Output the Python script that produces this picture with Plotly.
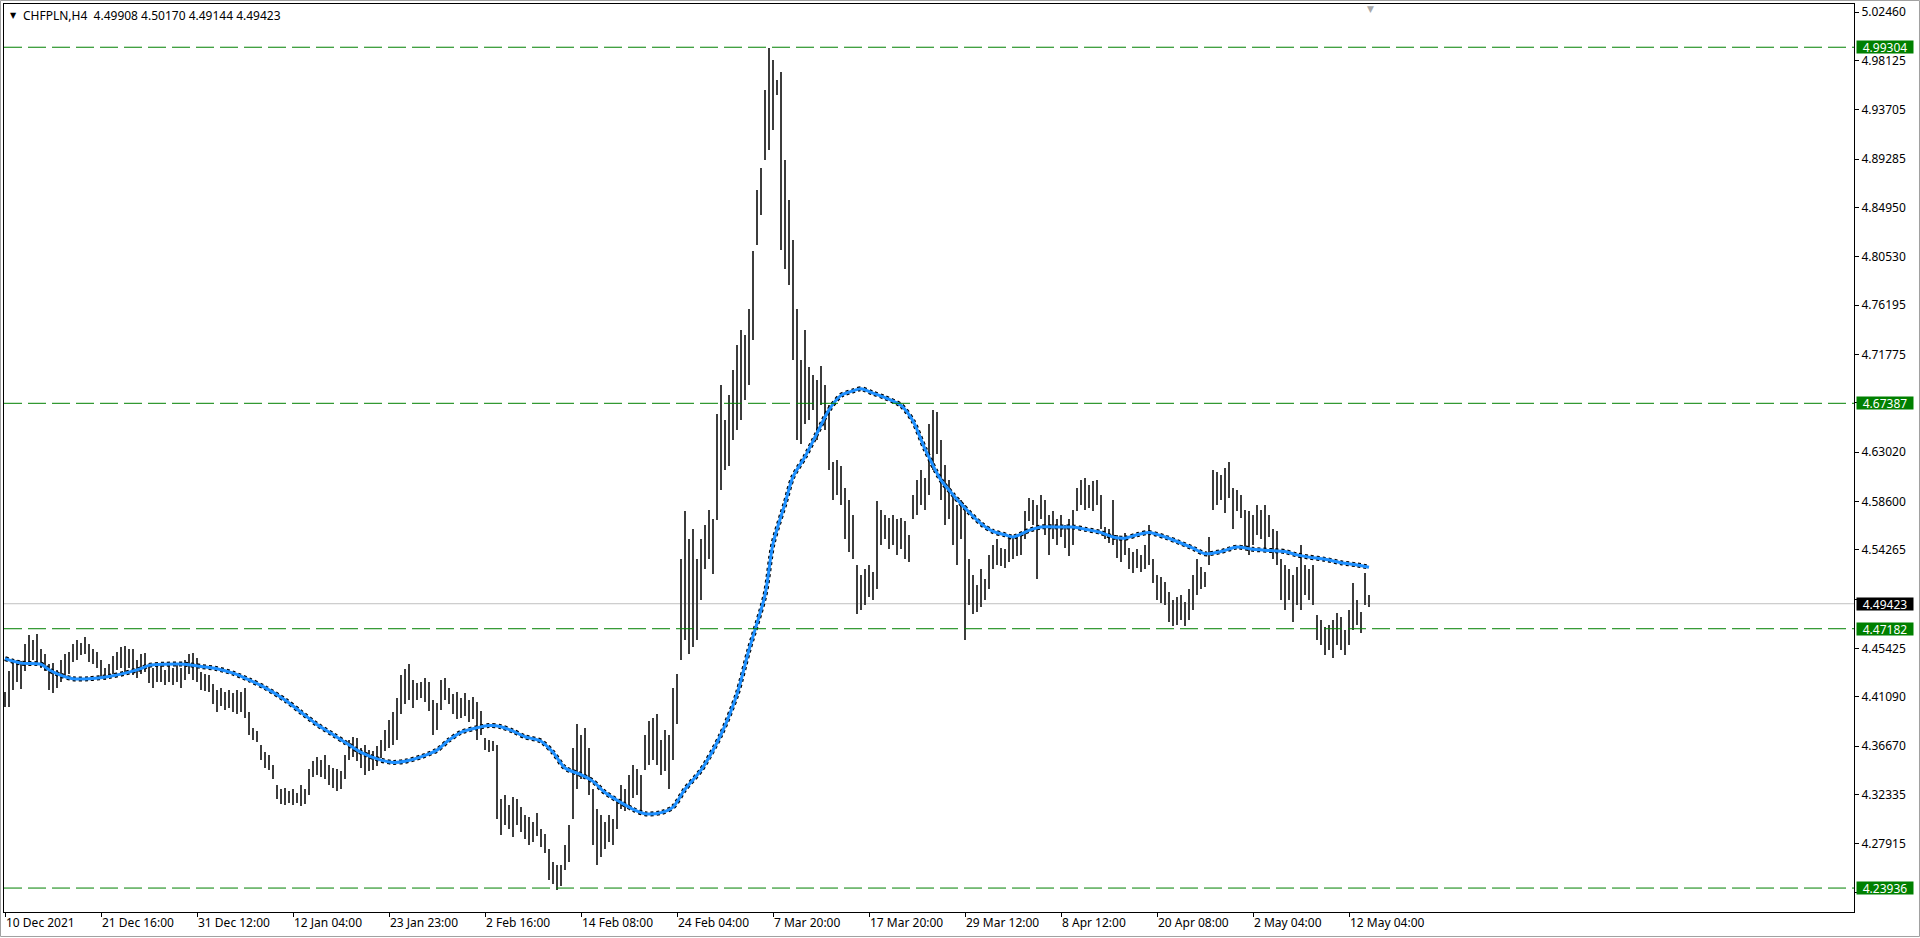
import plotly.graph_objects as go

# ---------------- data ----------------
symbol_title = "CHFPLN,H4  4.49908 4.50170 4.49144 4.49423"

highs = [
 4.415,4.434,4.443,4.444,4.443,4.458,4.466,4.462,4.467,4.454,4.449,4.440,4.441,4.435,4.444,4.449,4.451,4.458,4.462,4.459,
 4.464,4.458,4.454,4.451,4.444,4.437,4.440,4.447,4.451,4.455,4.456,4.454,4.454,4.444,4.449,4.450,4.440,4.437,4.441,4.439,
 4.435,4.440,4.437,4.440,4.437,4.444,4.449,4.450,4.446,4.433,4.431,4.430,4.422,4.417,4.419,4.415,4.417,4.414,4.417,4.415,
 4.419,4.397,4.383,4.380,4.368,4.361,4.359,4.350,4.332,4.328,4.329,4.326,4.328,4.325,4.332,4.328,4.346,4.353,4.357,4.354,
 4.359,4.350,4.347,4.346,4.344,4.359,4.372,4.375,4.374,4.365,4.368,4.363,4.362,4.367,4.372,4.381,4.390,4.397,4.410,4.430,
 4.436,4.440,4.426,4.423,4.424,4.428,4.424,4.408,4.405,4.426,4.428,4.419,4.413,4.415,4.410,4.414,4.408,4.411,4.406,4.398,
 4.374,4.372,4.371,4.368,4.319,4.323,4.314,4.321,4.319,4.312,4.305,4.303,4.299,4.307,4.292,4.288,4.274,4.263,4.260,4.260,
 4.278,4.296,4.365,4.386,4.377,4.383,4.365,4.328,4.310,4.305,4.299,4.305,4.301,4.319,4.332,4.328,4.341,4.350,4.346,4.341,
 4.377,4.389,4.392,4.395,4.372,4.381,4.377,4.419,4.431,4.534,4.577,4.552,4.561,4.534,4.552,4.565,4.578,4.570,4.664,4.690,
 4.659,4.681,4.704,4.726,4.740,4.735,4.758,4.810,4.865,4.885,4.955,4.992,4.982,4.964,4.971,4.892,4.856,4.820,4.758,4.713,
 4.740,4.706,4.699,4.695,4.707,4.690,4.672,4.621,4.623,4.618,4.598,4.587,4.574,4.529,4.520,4.525,4.529,4.523,4.586,4.578,
 4.574,4.571,4.574,4.570,4.571,4.568,4.556,4.592,4.605,4.614,4.607,4.655,4.668,4.666,4.641,4.619,4.605,4.590,4.583,4.587,
 4.583,4.534,4.520,4.511,4.525,4.516,4.538,4.547,4.552,4.544,4.543,4.552,4.554,4.556,4.558,4.577,4.589,4.587,4.583,4.592,
 4.587,4.574,4.577,4.570,4.574,4.565,4.570,4.578,4.598,4.605,4.607,4.601,4.604,4.605,4.592,4.563,4.561,4.587,4.556,4.554,
 4.558,4.544,4.541,4.543,4.538,4.547,4.565,4.534,4.520,4.518,4.514,4.505,4.498,4.500,4.502,4.496,4.507,4.520,4.534,4.527,
 4.523,4.554,4.614,4.612,4.610,4.616,4.621,4.598,4.596,4.592,4.578,4.577,4.574,4.583,4.578,4.583,4.574,4.561,4.559,4.534,
 4.529,4.525,4.520,4.527,4.547,4.529,4.525,4.529,4.484,4.480,4.473,4.475,4.480,4.486,4.482,4.471,4.489,4.513,4.498,4.487,
 4.522,4.50170,
]

lows = [
 4.402,4.402,4.417,4.424,4.418,4.434,4.440,4.444,4.441,4.437,4.434,4.417,4.414,4.419,4.424,4.428,4.431,4.442,4.444,4.448,
 4.449,4.442,4.440,4.437,4.428,4.426,4.430,4.431,4.435,4.437,4.433,4.437,4.430,4.428,4.431,4.433,4.423,4.419,4.424,4.424,
 4.421,4.424,4.421,4.424,4.419,4.426,4.431,4.426,4.424,4.417,4.416,4.415,4.404,4.397,4.403,4.399,4.401,4.397,4.395,4.397,
 4.392,4.377,4.372,4.370,4.354,4.347,4.345,4.337,4.319,4.315,4.314,4.316,4.314,4.316,4.313,4.315,4.323,4.339,4.341,4.339,
 4.337,4.332,4.329,4.326,4.328,4.337,4.354,4.357,4.353,4.347,4.341,4.344,4.345,4.349,4.356,4.362,4.365,4.368,4.372,4.395,
 4.404,4.408,4.401,4.408,4.410,4.406,4.398,4.377,4.381,4.399,4.408,4.404,4.395,4.391,4.392,4.394,4.388,4.391,4.372,4.377,
 4.363,4.361,4.362,4.301,4.287,4.296,4.292,4.285,4.296,4.290,4.283,4.278,4.281,4.286,4.276,4.271,4.247,4.243,4.238,4.241,
 4.256,4.263,4.301,4.328,4.337,4.341,4.323,4.278,4.260,4.267,4.274,4.281,4.278,4.292,4.310,4.308,4.314,4.320,4.323,4.308,
 4.345,4.350,4.354,4.350,4.341,4.344,4.328,4.354,4.386,4.444,4.462,4.449,4.455,4.462,4.498,4.525,4.534,4.521,4.569,4.596,
 4.614,4.618,4.641,4.650,4.659,4.677,4.690,4.731,4.816,4.843,4.892,4.901,4.919,4.950,4.811,4.794,4.780,4.713,4.641,4.637,
 4.655,4.659,4.668,4.641,4.672,4.650,4.614,4.587,4.592,4.583,4.552,4.541,4.534,4.485,4.489,4.493,4.500,4.498,4.507,4.547,
 4.552,4.543,4.547,4.538,4.543,4.534,4.532,4.570,4.574,4.583,4.578,4.592,4.614,4.628,4.587,4.565,4.570,4.547,4.529,4.552,
 4.462,4.493,4.485,4.487,4.491,4.498,4.507,4.525,4.529,4.528,4.526,4.532,4.534,4.537,4.538,4.552,4.568,4.565,4.516,4.570,
 4.556,4.538,4.552,4.547,4.554,4.544,4.537,4.547,4.577,4.583,4.578,4.580,4.577,4.583,4.561,4.552,4.549,4.547,4.535,4.532,
 4.538,4.525,4.522,4.526,4.523,4.525,4.529,4.513,4.498,4.495,4.493,4.478,4.474,4.475,4.480,4.474,4.480,4.489,4.502,4.507,
 4.509,4.529,4.578,4.583,4.587,4.576,4.589,4.561,4.577,4.571,4.543,4.538,4.547,4.556,4.552,4.543,4.554,4.534,4.529,4.498,
 4.489,4.498,4.478,4.493,4.489,4.502,4.498,4.493,4.462,4.457,4.448,4.453,4.446,4.457,4.453,4.448,4.457,4.471,4.475,4.468,
 4.493,4.49144,
]

# moving average, read at selected bar positions
ma_idx = [0,4,9,11,14,17,21,26,30,34,36,40,45,49,53,57,61,65,70,74,78,82,85,89,94,97,100,104,108,111,114,118,121,124,127,
          130,134,137,140,144,147,150,154,157,160,164,167,170,174,179,183,186,190,192,195,197,200,203,206,209,212,214,217,
          220,224,227,230,234,237,240,244,247,250,252,256,259,264,267,270,274,277,280,283,286,290,293,297,300,304,308,312,
          316,320,323,326,330,334,338,341]
ma_vals = [4.445,4.441,4.440,4.435,4.430,4.427,4.427,4.429,4.432,4.436,4.439,4.440,4.440,4.438,4.436,4.432,4.426,4.419,
           4.408,4.397,4.386,4.377,4.370,4.361,4.354,4.352,4.353,4.357,4.363,4.372,4.379,4.383,4.385,4.384,4.380,4.375,
           4.371,4.361,4.347,4.341,4.335,4.325,4.316,4.310,4.306,4.307,4.312,4.328,4.345,4.377,4.413,4.453,4.502,4.548,
           4.584,4.608,4.626,4.647,4.668,4.681,4.685,4.687,4.683,4.679,4.672,4.658,4.633,4.605,4.592,4.580,4.566,4.559,
           4.556,4.554,4.560,4.563,4.563,4.563,4.561,4.558,4.554,4.553,4.556,4.558,4.554,4.550,4.544,4.539,4.541,4.545,
           4.543,4.542,4.541,4.538,4.536,4.534,4.531,4.529,4.527]

# horizontal levels
level_prices = [4.99304, 4.67387, 4.47182, 4.23936]
bid_price = 4.49423

# axis ticks (labels hidden under the price boxes are left blank)
y_ticks = [5.02460, 4.98125, 4.93705, 4.89285, 4.84950, 4.80530, 4.76195, 4.71775, 4.67440, 4.63020,
           4.58600, 4.54265, 4.49845, 4.45425, 4.41090, 4.36670, 4.32335, 4.27915, 4.23495]
y_hidden = [4.67440, 4.49845, 4.23495]
x_tick_idx = [0, 24, 48, 72, 96, 120, 144, 168, 192, 216, 240, 264, 288, 312, 336]
x_tick_text = ["10 Dec 2021", "21 Dec 16:00", "31 Dec 12:00", "12 Jan 04:00", "23 Jan 23:00", "2 Feb 16:00",
               "14 Feb 08:00", "24 Feb 04:00", "7 Mar 20:00", "17 Mar 20:00", "29 Mar 12:00", "8 Apr 12:00",
               "20 Apr 08:00", "2 May 04:00", "12 May 04:00"]

# ---------------- figure ----------------
FONT = "Noto Sans"
GREEN = "#008000"

idx = list(range(len(highs)))
fig = go.Figure()
fig.add_trace(go.Bar(
    x=idx, base=lows, y=[h - l for h, l in zip(highs, lows)], width=0.42,
    marker=dict(color="#3c3c3c", line=dict(width=0)), hoverinfo="skip"))
fig.add_trace(go.Scatter(
    x=ma_idx, y=ma_vals, mode="lines",
    line=dict(color="black", width=5, dash="3px,3px", shape="spline", smoothing=0.8), hoverinfo="skip"))
fig.add_trace(go.Scatter(
    x=ma_idx, y=ma_vals, mode="lines",
    line=dict(color="#1E90FF", width=3, shape="spline", smoothing=0.8), hoverinfo="skip"))

shapes = []
# outer window frame
shapes.append(dict(type="rect", xref="paper", yref="paper", x0=-0.00189, x1=1.0354, y0=-0.02698, y1=1.00386,
                   line=dict(color="#A0A0A0", width=1), layer="below"))
# bid line (behind the bars)
shapes.append(dict(type="line", xref="paper", x0=0, x1=1, yref="y", y0=bid_price, y1=bid_price,
                   line=dict(color="#C0C0C0", width=1), layer="below"))
for p in level_prices:
    shapes.append(dict(type="line", xref="paper", x0=0, x1=1, yref="y", y0=p, y1=p,
                       line=dict(color=GREEN, width=1, dash="18px,6px"), layer="above"))

annotations = []
for p in level_prices:
    annotations.append(dict(x=1, xref="paper", xanchor="left", xshift=2, y=p, yref="y", yanchor="middle",
                            text=f"{p:.5f}", showarrow=False, bgcolor=GREEN, width=56, height=12, borderpad=0,
                            font=dict(family=FONT, size=12, color="white")))
annotations.append(dict(x=1, xref="paper", xanchor="left", xshift=2, y=bid_price, yref="y", yanchor="middle",
                        text=f"{bid_price:.5f}", showarrow=False, bgcolor="black", width=56, height=12, borderpad=0,
                        font=dict(family=FONT, size=12, color="white")))
annotations.append(dict(x=0, xref="paper", xanchor="left", xshift=4, y=1, yref="paper", yanchor="middle", yshift=-11,
                        text="▼", showarrow=False, font=dict(family="DejaVu Sans", size=8, color="black")))
annotations.append(dict(x=0, xref="paper", xanchor="left", xshift=17, y=1, yref="paper", yanchor="middle", yshift=-11,
                        text=symbol_title.replace("  ", "&nbsp;&nbsp;"), showarrow=False,
                        font=dict(family=FONT, size=12, color="black")))
# chart-shift marker at the top border
annotations.append(dict(x=0.7389, xref="paper", xanchor="center", y=1, yref="paper", yanchor="top", yshift=2,
                        text="▼", showarrow=False, font=dict(family="DejaVu Sans", size=9, color="#A8A8A8")))

fig.update_layout(
    width=1920, height=938, autosize=False,
    margin=dict(l=4, r=66, t=4, b=26, pad=0),
    paper_bgcolor="white", plot_bgcolor="white",
    showlegend=False, hovermode=False, dragmode=False,
    bargap=0, shapes=shapes, annotations=annotations,
    font=dict(family=FONT, size=12, color="black"),
)
fig.update_xaxes(range=[-0.25, 462.25], showgrid=False, zeroline=False,
                 showline=True, linecolor="black", linewidth=1, mirror=True,
                 ticks="outside", ticklen=4, tickcolor="black", tickwidth=1,
                 tickvals=x_tick_idx, ticktext=x_tick_text, ticklabelposition="outside right",
                 tickfont=dict(family=FONT, size=12, color="black"), fixedrange=True)
fig.update_yaxes(side="right", range=[4.2179, 5.0318], showgrid=False, zeroline=False,
                 showline=True, linecolor="black", linewidth=1, mirror=True,
                 ticks="outside", ticklen=4, tickcolor="black", tickwidth=1,
                 tickvals=y_ticks, ticktext=["" if v in y_hidden else f"{v:.5f}" for v in y_ticks],
                 tickfont=dict(family=FONT, size=12, color="black"), fixedrange=True)

fig.write_html("out.html", config={"displayModeBar": False, "staticPlot": True},
               post_script="document.body.style.margin='0';document.body.style.overflow='hidden';")
